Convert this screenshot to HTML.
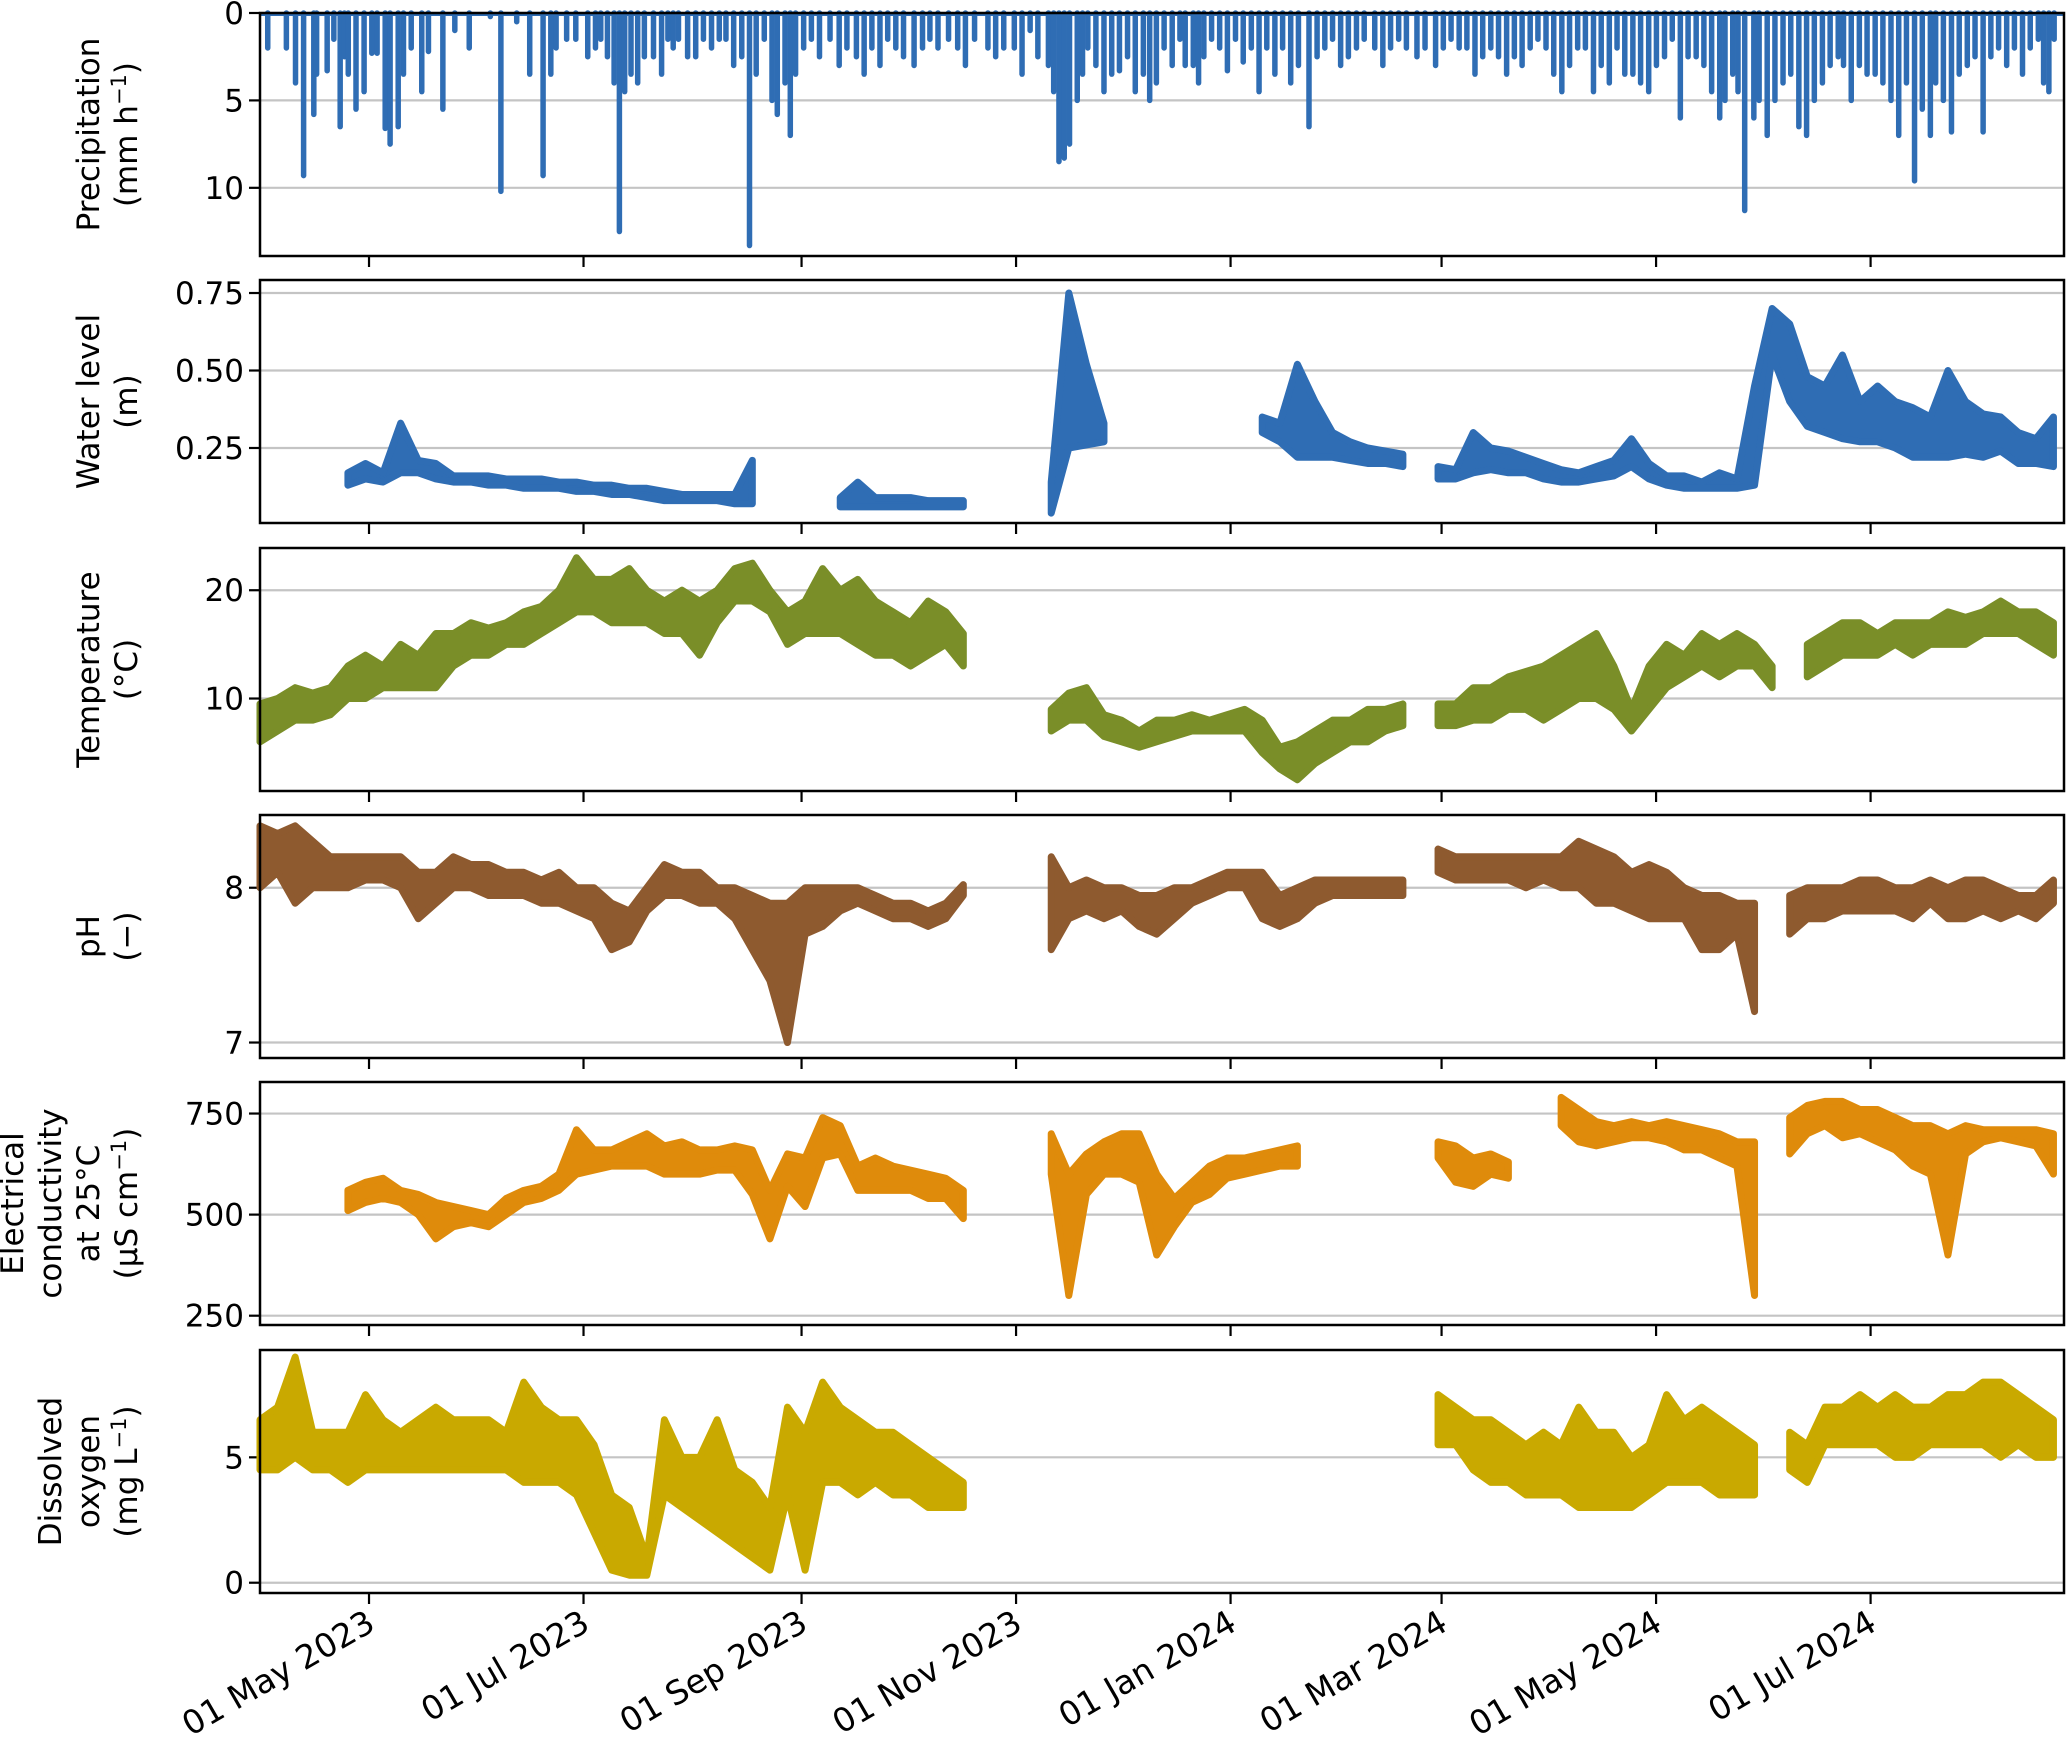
<!DOCTYPE html>
<html><head><meta charset="utf-8"><style>
html,body{margin:0;padding:0;background:#fff;}
svg{display:block;font-family:"DejaVu Sans","Liberation Sans",sans-serif;}
</style></head><body>
<svg id="chart" width="2067" height="1739" viewBox="0 0 2067 1739" xmlns="http://www.w3.org/2000/svg"></svg>
<script>
// ---- data (days since 31 Mar 2023; 5-day grid for sensor series) ----
const tickDays = [31, 92, 154, 215, 276, 336, 397, 458];
const tickLabels = ["01 May 2023","01 Jul 2023","01 Sep 2023","01 Nov 2023","01 Jan 2024","01 Mar 2024","01 May 2024","01 Jul 2024"];
const gridStep = 5;

const precipDays = [2.2,7.5,10.1,12.4,15.3,16.1,19.1,21,22.8,24,25.1,27.3,29.6,31.8,33.3,35.6,37,39.3,40.8,43,46,47.9,52,55.4,59.5,65.5,68.5,73,76.7,80.5,82.7,84.2,87.2,89.8,93.2,95.4,96.9,98.8,100.7,102.2,103.7,105.5,107.4,109.3,111.9,114.2,116,117.5,119,121.6,123.9,126.1,128.4,130.6,132.5,134.7,137,139.2,141.1,143.4,145.6,147.1,149.3,150.8,152.3,154.6,156.8,159.1,162.1,164.7,166.9,169.6,171.8,174,176.3,178.5,180.8,183,186,188.4,190.5,192.8,195.8,198.4,200.6,203.2,207,209.2,211.5,214.5,216.7,219,221.2,224.2,225.7,227.2,228.7,230.2,232.4,233.9,235.4,237.7,240,242.2,244.4,246.7,248.9,251.2,253,254.9,257.1,259.4,261.6,263.1,265.4,266.9,268.4,270.6,272.9,275.1,277.4,279.6,281.9,284.1,286.3,288.6,290.8,293.1,295.3,298.3,300.6,302.8,305,307.3,309.5,311.8,314,317,319.3,321.5,323.8,326,329,331.3,334.3,336.5,338.7,341,343.2,345.5,347.7,350,352.2,354.5,356.7,358.9,361.2,363.4,365.7,367.9,370.2,372.4,374.7,376.9,379.2,381.4,383.7,385.9,388.1,390.4,392.6,394.9,397.1,399.4,401.6,403.9,406.1,408.4,410.6,412.8,415.1,416.6,418.8,420.3,422.2,424.8,426.3,428.6,430.8,433.1,435.3,437.6,439.8,442,444.3,446.5,448.8,450.3,452.5,454.8,457,459.3,461.5,463.8,466,468.2,470.5,472.7,475,476.5,478.7,481,483.2,485.5,487.7,490,492.2,494.4,496.7,498.9,501.2,503.4,505.7,507.2,508.7,510.2];
const precipValues = [2,2,4,9.3,5.8,3.5,3.3,1.5,6.5,2.5,3.5,5.5,4.5,2.3,2.3,6.6,7.5,6.5,3.5,2,4.5,2.2,5.5,1,2,0.2,10.2,0.5,3.5,9.3,3.5,2,1.5,1.5,2.5,2,1.5,2.5,4,12.5,4.5,3.5,4,2.5,2.5,3.5,1.5,2,1.5,2.5,2.5,1.5,2,1.5,1.5,3,2.5,13.3,3.5,1.5,5,5.8,4,7,3.5,2,1.5,2.5,1.5,3,2,2.5,3.5,2,3,1.5,2,2.5,3,2,1.5,2,1.5,2,3,1.5,2,2.5,2,2,3.5,1,2.5,3,4.5,8.5,8.3,7.5,5,3.5,2,3,4.5,3.5,3.3,2.5,4.5,3.5,5,4,2,3,1.5,3,3,4,2.5,1.5,2,3.3,1.5,2.8,2,4.5,2,3.5,2,4,3,6.5,2.5,2,1.5,3,2.5,2,1.5,2,3,2,1.5,2,2.5,2,3,2,1.5,2,2,3.5,2.5,2,2.5,3.5,2.5,3,2,1.5,2,3.5,4.5,3,2,2,4.5,3,4,2,3.5,3.5,4,4.5,3,2.5,1.5,6,2.5,2.5,3,4.5,6,5,3.5,4.5,11.3,6,5,7,5,4,3.5,6.5,7,5,4,3,2.5,3,5,3,3.5,3.5,4,5,7,4,9.6,5.5,7,4,5,6.8,3.5,3,2.5,6.8,2.5,2,3,2,3.5,2,1.5,4,4.5,1.5];

const N = null;
const waterLo = [N,N,N,N,N,0.13,0.15,0.14,0.17,0.17,0.15,0.14,0.14,0.13,0.13,0.12,0.12,0.12,0.11,0.11,0.10,0.10,0.09,0.08,0.08,0.08,0.08,0.07,0.07,N,N,N,N,0.06,0.06,0.06,0.06,0.06,0.06,0.06,0.06,N,N,N,N,0.04,0.25,0.26,0.27,N,N,N,N,N,N,N,N,0.30,0.27,0.22,0.22,0.22,0.21,0.20,0.20,0.19,N,0.15,0.15,0.17,0.18,0.17,0.17,0.15,0.14,0.14,0.15,0.16,0.19,0.15,0.13,0.12,0.12,0.12,0.12,0.13,0.55,0.40,0.32,0.30,0.28,0.27,0.27,0.25,0.22,0.22,0.22,0.23,0.22,0.24,0.20,0.20,0.19];
const waterHi = [N,N,N,N,N,0.17,0.20,0.17,0.33,0.21,0.20,0.16,0.16,0.16,0.15,0.15,0.15,0.14,0.14,0.13,0.13,0.12,0.12,0.11,0.10,0.10,0.10,0.10,0.21,N,N,N,N,0.09,0.14,0.09,0.09,0.09,0.08,0.08,0.08,N,N,N,N,0.14,0.75,0.52,0.33,N,N,N,N,N,N,N,N,0.35,0.33,0.52,0.40,0.30,0.27,0.25,0.24,0.23,N,0.19,0.18,0.30,0.25,0.24,0.22,0.20,0.18,0.17,0.19,0.21,0.28,0.20,0.16,0.16,0.14,0.17,0.15,0.45,0.70,0.65,0.48,0.45,0.55,0.40,0.45,0.40,0.38,0.35,0.50,0.40,0.36,0.35,0.30,0.28,0.35];

const tempLo = [6,7,8,8,8.5,10,10,11,11,11,11,13,14,14,15,15,16,17,18,18,17,17,17,16,16,14,17,19,19,18,15,16,16,16,15,14,14,13,14,15,13,N,N,N,N,7,8,8,6.5,6,5.5,6,6.5,7,7,7,7,5,3.5,2.5,4,5,6,6,7,7.5,N,7.5,7.5,8,8,9,9,8,9,10,10,9,7,9,11,12,13,12,13,13,11,N,12,13,14,14,14,15,14,15,15,15,16,16,16,15,14];
const tempHi = [9.5,10,11,10.5,11,13,14,13,15,14,16,16,17,16.5,17,18,18.5,20,23,21,21,22,20,19,20,19,20,22,22.5,20,18,19,22,20,21,19,18,17,19,18,16,N,N,N,N,9,10.5,11,8.5,8,7,8,8,8.5,8,8.5,9,8,5.5,6,7,8,8,9,9,9.5,N,9.5,9.5,11,11,12,12.5,13,14,15,16,13,9,13,15,14,16,15,16,15,13,N,15,16,17,17,16,17,17,17,18,17.5,18,19,18,18,17];

const phLo = [8.0,8.1,7.9,8.0,8.0,8.0,8.05,8.05,8.0,7.8,7.9,8.0,8.0,7.95,7.95,7.95,7.9,7.9,7.85,7.8,7.6,7.65,7.85,7.95,7.95,7.9,7.9,7.8,7.6,7.4,7.0,7.7,7.75,7.85,7.9,7.85,7.8,7.8,7.75,7.8,7.95,N,N,N,N,7.6,7.8,7.85,7.8,7.85,7.75,7.7,7.8,7.9,7.95,8.0,8.0,7.8,7.75,7.8,7.9,7.95,7.95,7.95,7.95,7.95,N,8.1,8.05,8.05,8.05,8.05,8.0,8.05,8.0,8.0,7.9,7.9,7.85,7.8,7.8,7.8,7.6,7.6,7.7,7.2,N,7.7,7.8,7.8,7.85,7.85,7.85,7.85,7.8,7.9,7.8,7.8,7.85,7.8,7.85,7.8,7.9];
const phHi = [8.4,8.35,8.4,8.3,8.2,8.2,8.2,8.2,8.2,8.1,8.1,8.2,8.15,8.15,8.1,8.1,8.05,8.1,8.0,8.0,7.9,7.85,8.0,8.15,8.1,8.1,8.0,8.0,7.95,7.9,7.9,8.0,8.0,8.0,8.0,7.95,7.9,7.9,7.85,7.9,8.02,N,N,N,N,8.2,8.0,8.05,8.0,8.0,7.95,7.95,8.0,8.0,8.05,8.1,8.1,8.1,7.95,8.0,8.05,8.05,8.05,8.05,8.05,8.05,N,8.25,8.2,8.2,8.2,8.2,8.2,8.2,8.2,8.3,8.25,8.2,8.1,8.15,8.1,8.0,7.95,7.95,7.9,7.9,N,7.95,8.0,8.0,8.0,8.05,8.05,8.0,8.0,8.05,8.0,8.05,8.05,8.0,7.95,7.95,8.05];

const ecLo = [N,N,N,N,N,510,530,540,530,500,440,470,480,470,500,530,540,560,600,610,620,620,620,600,600,600,610,610,550,440,570,520,640,650,560,560,560,560,540,540,490,N,N,N,N,600,300,550,600,600,580,400,470,530,550,590,600,610,620,620,N,N,N,N,N,N,N,640,580,570,600,590,N,N,720,680,670,680,690,690,680,660,660,640,620,300,N,650,700,720,690,700,680,660,620,600,400,650,680,690,680,670,600];
const ecHi = [N,N,N,N,N,560,580,590,560,550,530,520,510,500,540,560,570,600,710,660,660,680,700,670,680,660,660,670,660,560,650,640,740,720,620,640,620,610,600,590,560,N,N,N,N,700,600,650,680,700,700,600,540,580,620,640,640,650,660,670,N,N,N,N,N,N,N,680,670,640,650,630,N,N,790,760,730,720,730,720,730,720,710,700,680,680,N,740,770,780,780,760,760,740,720,720,700,720,710,710,710,710,700];

const doLo = [4.5,4.5,5,4.5,4.5,4,4.5,4.5,4.5,4.5,4.5,4.5,4.5,4.5,4.5,4,4,4,3.5,2,0.5,0.3,0.3,3.5,3,2.5,2,1.5,1,0.5,3.5,0.5,4,4,3.5,4,3.5,3.5,3,3,3,N,N,N,N,N,N,N,N,N,N,N,N,N,N,N,N,N,N,N,N,N,N,N,N,N,N,5.5,5.5,4.5,4,4,3.5,3.5,3.5,3,3,3,3,3.5,4,4,4,3.5,3.5,3.5,N,4.5,4,5.5,5.5,5.5,5.5,5,5,5.5,5.5,5.5,5.5,5,5.5,5,5];
const doHi = [6.5,7,9,6,6,6,7.5,6.5,6,6.5,7,6.5,6.5,6.5,6,8,7,6.5,6.5,5.5,3.5,3,1,6.5,5,5,6.5,4.5,4,3,7,6,8,7,6.5,6,6,5.5,5,4.5,4,N,N,N,N,N,N,N,N,N,N,N,N,N,N,N,N,N,N,N,N,N,N,N,N,N,N,7.5,7,6.5,6.5,6,5.5,6,5.5,7,6,6,5,5.5,7.5,6.5,7,6.5,6,5.5,N,6,5.5,7,7,7.5,7,7.5,7,7,7.5,7.5,8,8,7.5,7,6.5];

// ---- layout ----
const svg = document.getElementById('chart');
const NS = 'http://www.w3.org/2000/svg';
const X0 = 260, X1 = 2064, totalDays = 513;
const PH = 243;
const panelTops = [13, 280, 548, 815, 1082, 1350];
function xs(d){ return X0 + (X1 - X0) * d / totalDays; }
function mk(tag, attrs, parent){
  const e = document.createElementNS(NS, tag);
  for (const k in attrs) e.setAttribute(k, attrs[k]);
  (parent || svg).appendChild(e);
  return e;
}

const panels = [
  {name:'precipitation', top:panelTops[0], lo:0, hi:13.9, invert:true, ticks:[0,5,10], fmt:v=>String(v), color:'#2f6db4', title:[['Precipitation'],['(mm h','−1',')']]},
  {name:'water-level', top:panelTops[1], lo:0.008, hi:0.792, ticks:[0.25,0.5,0.75], fmt:v=>v.toFixed(2), color:'#2f6db4', title:[['Water level'],['(m)']], lo_a:waterLo, hi_a:waterHi},
  {name:'temperature', top:panelTops[2], lo:1.46, hi:23.9, ticks:[10,20], fmt:v=>String(v), color:'#7a8e28', title:[['Temperature'],['(°C)']], lo_a:tempLo, hi_a:tempHi},
  {name:'ph', top:panelTops[3], lo:6.9, hi:8.47, ticks:[7,8], fmt:v=>String(v), color:'#8e5a2f', title:[['pH'],['(−)']], lo_a:phLo, hi_a:phHi},
  {name:'electrical-conductivity', top:panelTops[4], lo:227, hi:828, ticks:[250,500,750], fmt:v=>String(v), color:'#df8b0b', title:[['Electrical'],['conductivity'],['at 25°C'],['(µS cm','−1',')']], lo_a:ecLo, hi_a:ecHi},
  {name:'dissolved-oxygen', top:panelTops[5], lo:-0.41, hi:9.28, ticks:[0,5], fmt:v=>String(v), color:'#c9a900', title:[['Dissolved'],['oxygen'],['(mg L','−1',')']], lo_a:doLo, hi_a:doHi}
];

panels.forEach((p, pi) => {
  const g = mk('g', {});
  
  
  const ys = v => p.invert ? p.top + PH * (v - p.lo) / (p.hi - p.lo) : p.top + PH - PH * (v - p.lo) / (p.hi - p.lo);
  p.ticks.forEach(t => {
    const y = ys(t);
    const gl = mk('line', {x1:X0, x2:X1, y1:y, y2:y, stroke:'#c4c4c4', 'stroke-width':2.2}, g);
    
    
    mk('line', {x1:X0-11, x2:X0, y1:y, y2:y, stroke:'#000', 'stroke-width':2.2}, g);
    const tl = mk('text', {x:X0-16, y:y+11, 'text-anchor':'end', 'font-size':31}, g);
    tl.textContent = p.fmt(t);
    
    
  });
  const sg = mk('g', {}, g);
  
  
  if (p.invert) {
    precipDays.forEach((d, i) => {
      const b = mk('line', {x1:xs(d), x2:xs(d), y1:ys(0), y2:ys(precipValues[i]), stroke:p.color, 'stroke-width':5.5, 'stroke-linecap':'round'}, sg);
      
      
    });
    mk('line', {x1:X0, x2:X1, y1:ys(0)+1, y2:ys(0)+1, stroke:p.color, 'stroke-width':4}, sg);
  } else {
    let run = [];
    const flush = () => {
      if (!run.length) return;
      let pts = run.map(i => xs(i*gridStep)+','+ys(p.hi_a[i]));
      pts = pts.concat(run.slice().reverse().map(i => xs(i*gridStep)+','+ys(p.lo_a[i])));
      const band = mk('polygon', {points:pts.join(' '), fill:p.color, stroke:p.color, 'stroke-width':7, 'stroke-linejoin':'round'}, sg);
      
      
      run = [];
    };
    p.lo_a.forEach((v, i) => { if (v === null || p.hi_a[i] === null) flush(); else run.push(i); });
    flush();
  }
  tickDays.forEach(d => {
    mk('line', {x1:xs(d), x2:xs(d), y1:p.top+PH, y2:p.top+PH+11, stroke:'#000', 'stroke-width':2.2}, g);
  });
  const fr = mk('rect', {x:X0, y:p.top, width:X1-X0, height:PH, fill:'none', stroke:'#000', 'stroke-width':2.5}, g);
  
  
  const n = p.title.length, lh = 38;
  const cy = p.top + PH/2;
  const baseX = 143 - (n-1)*lh;
  const tg = mk('g', {}, g);
  
  
  p.title.forEach((line, li) => {
    const x = baseX + li*lh - 6;
    const t = mk('text', {x:x, y:cy, 'text-anchor':'middle', 'font-size':31, transform:'rotate(-90 '+x+' '+cy+')'}, tg);
    const a = document.createElementNS(NS, 'tspan'); a.textContent = line[0]; t.appendChild(a);
    if (line.length > 1) {
      const s = document.createElementNS(NS, 'tspan'); s.setAttribute('dy', '-11'); s.setAttribute('font-size', '21'); s.textContent = line[1]; t.appendChild(s);
      const c = document.createElementNS(NS, 'tspan'); c.setAttribute('dy', '11'); c.textContent = line[2]; t.appendChild(c);
    }
  });
});

const xl = mk('g', {});


const lastBottom = panelTops[5] + PH;
tickDays.forEach((d, i) => {
  const x = xs(d) + 8, y = lastBottom + 36;
  const t = mk('text', {x:x, y:y, 'text-anchor':'end', 'font-size':33, transform:'rotate(-30 '+x+' '+y+')'}, xl);
  t.textContent = tickLabels[i];
  
  
});
</script>
</body></html>
